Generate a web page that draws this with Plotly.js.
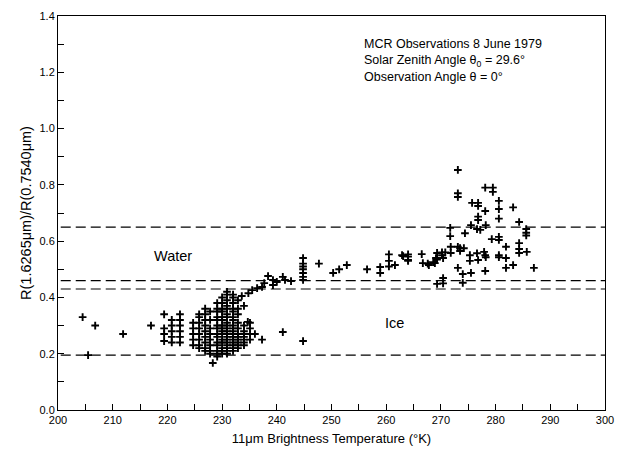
<!DOCTYPE html>
<html><head><meta charset="utf-8">
<script src="https://cdn.plot.ly/plotly-3.0.1.min.js"></script>
<style>html,body{margin:0;padding:0;background:#fff}#chart{width:618px;height:453px}</style>
</head><body><div id="chart"></div><script>
// Isolated points (°K, ratio)
var isoT = [204.5, 206.8, 205.5, 211.9, 217.0, 228.3, 241.1, 244.8, 236.0, 237.3, 234.7];
var isoR = [0.33, 0.30, 0.195, 0.27, 0.30, 0.167, 0.277, 0.245, 0.27, 0.25, 0.313];

// Dense ice cluster, column by column
var iceColT = [219.4, 220.8, 222.3, 224.7, 225.8, 226.9, 227.8, 229.1, 230.0, 230.9, 232.0, 232.9, 234.0, 235.1];
var iceColR = [
  [0.34, 0.29, 0.27, 0.245],
  [0.32, 0.30, 0.28, 0.26, 0.24],
  [0.34, 0.32, 0.30, 0.28, 0.26, 0.24],
  [0.31, 0.29, 0.27, 0.25, 0.23],
  [0.34, 0.33, 0.31, 0.29, 0.27, 0.25, 0.23, 0.22],
  [0.36, 0.34, 0.32, 0.30, 0.28, 0.26, 0.24, 0.22, 0.21],
  [0.35, 0.32, 0.29, 0.27, 0.25, 0.23, 0.21, 0.20],
  [0.38, 0.36, 0.35, 0.33, 0.32, 0.30, 0.29, 0.27, 0.26, 0.24, 0.23, 0.21, 0.20, 0.19],
  [0.40, 0.38, 0.36, 0.35, 0.33, 0.32, 0.30, 0.29, 0.28, 0.27, 0.25, 0.24, 0.22, 0.21, 0.20],
  [0.42, 0.41, 0.39, 0.37, 0.36, 0.34, 0.33, 0.31, 0.30, 0.29, 0.28, 0.27, 0.26, 0.25, 0.24, 0.23, 0.22, 0.21, 0.20],
  [0.41, 0.40, 0.38, 0.36, 0.35, 0.33, 0.32, 0.30, 0.29, 0.28, 0.27, 0.26, 0.25, 0.24, 0.23, 0.22, 0.21],
  [0.39, 0.36, 0.34, 0.31, 0.29, 0.27, 0.26, 0.25, 0.24, 0.23, 0.22],
  [0.37, 0.30, 0.28, 0.27, 0.26, 0.25, 0.24, 0.23],
  [0.31, 0.29, 0.27, 0.25]
];

// Transition points
var transT = [233.6, 234.8, 235.5, 236.4, 237.3, 237.7, 238.4, 239.3, 239.3, 240.0, 241.1, 241.5, 242.6,
  244.8, 244.8, 244.8, 244.8, 244.8, 244.8, 244.8, 247.7, 250.3, 251.4, 252.8, 256.5, 258.9, 258.9,
  260.5, 260.5, 260.5, 261.6, 262.9, 264.0, 264.0];
var transR = [0.405, 0.415, 0.426, 0.433, 0.437, 0.451, 0.476, 0.444, 0.462, 0.455, 0.473, 0.462, 0.458,
  0.54, 0.52, 0.51, 0.50, 0.487, 0.473, 0.462, 0.52, 0.487, 0.50, 0.515, 0.50, 0.508, 0.487,
  0.553, 0.53, 0.51, 0.515, 0.55, 0.553, 0.53];

// Warm (water) cluster
var warmT = [263.1, 264.0, 264.0, 266.5, 266.7, 267.6, 267.8, 268.6, 268.9, 269.1, 269.3, 269.3, 270.2, 270.2,
  270.4, 270.8, 271.8, 271.8, 273.1, 273.5, 273.5, 274.2, 275.3, 275.3, 276.6, 276.8, 277.9, 278.1, 278.2,
  280.6, 280.6, 281.9, 281.9, 283.2, 281.9, 284.3, 284.3, 284.3, 285.7, 279.3, 280.6, 280.6,
  273.1, 274.0, 275.5, 278.1, 287.0, 270.4, 270.4, 269.3, 274.0,
  271.7, 271.7, 274.4, 275.5, 276.6, 277.2, 276.8, 276.8, 278.2, 284.3, 285.6, 285.6, 285.6,
  275.7, 276.8, 276.8, 278.1, 280.6, 280.6, 280.6, 283.2, 278.1, 279.5, 279.5, 273.1, 273.1, 273.1];
var warmR = [0.547, 0.545, 0.533, 0.554, 0.522, 0.52, 0.515, 0.525, 0.522, 0.54, 0.558, 0.535, 0.55, 0.56,
  0.54, 0.56, 0.58, 0.558, 0.58, 0.575, 0.565, 0.575, 0.55, 0.53, 0.557, 0.533, 0.562, 0.55, 0.543,
  0.55, 0.543, 0.54, 0.58, 0.515, 0.505, 0.593, 0.572, 0.558, 0.562, 0.607, 0.615, 0.604,
  0.505, 0.483, 0.487, 0.494, 0.505, 0.469, 0.45, 0.448, 0.452,
  0.647, 0.618, 0.628, 0.657, 0.643, 0.64, 0.687, 0.675, 0.657, 0.668, 0.643, 0.63, 0.62,
  0.736, 0.736, 0.725, 0.707, 0.743, 0.714, 0.68, 0.72, 0.79, 0.79, 0.775, 0.853, 0.77, 0.757];

// Threshold lines
var thresholds = [0.195, 0.43, 0.46, 0.65];

var allT = [], allR = [];
isoT.forEach(function(t, i){ allT.push(t); allR.push(isoR[i]); });
iceColT.forEach(function(t, i){ iceColR[i].forEach(function(r){ allT.push(t); allR.push(r); }); });
transT.forEach(function(t, i){ allT.push(t); allR.push(transR[i]); });
warmT.forEach(function(t, i){ allT.push(t); allR.push(warmR[i]); });

var font = 'Liberation Sans, Arial, Helvetica, sans-serif';

var trace = {
  x: allT, y: allR, type: 'scatter', mode: 'markers', hoverinfo: 'skip',
  marker: {symbol: 'cross-thin', size: 5.5, color: 'black', line: {width: 1.9, color: 'black'}}
};

var shapes = thresholds.map(function(v){
  return {type: 'line', xref: 'paper', yref: 'y', x0: 0.005, x1: 1, y0: v, y1: v,
    line: {color: 'black', width: 1.2, dash: '10px,5px'}};
});

var layout = {
  width: 618, height: 453,
  margin: {l: 58, r: 13, t: 16, b: 43},
  paper_bgcolor: 'white', plot_bgcolor: 'white',
  showlegend: false,
  font: {family: font, color: 'black', size: 11},
  xaxis: {
    range: [200, 300], dtick: 10, tick0: 200, ticks: 'inside', ticklen: 6, tickcolor: 'black',
    showline: true, mirror: true, linecolor: 'black', linewidth: 1,
    showgrid: false, zeroline: false, tickfont: {size: 11},
    minor: {dtick: 5, tick0: 200, ticks: 'inside', ticklen: 6, tickcolor: 'black', showgrid: false},
    title: {text: '11μm Brightness Temperature (°K)', font: {size: 13}, standoff: 8}
  },
  yaxis: {
    range: [0, 1.4], dtick: 0.2, tick0: 0, tickformat: '.1f', ticks: 'inside', ticklen: 6, tickcolor: 'black',
    showline: true, mirror: true, linecolor: 'black', linewidth: 1,
    showgrid: false, zeroline: false, tickfont: {size: 11},
    minor: {dtick: 0.1, tick0: 0, ticks: 'inside', ticklen: 6, tickcolor: 'black', showgrid: false},
    title: {text: 'R(1.6265μm)/R(0.7540μm)', font: {size: 14.5}, standoff: 4}
  },
  shapes: shapes,
  annotations: [
    {xref: 'paper', yref: 'paper', x: 0.556, y: 0.952, xanchor: 'left', yanchor: 'top', align: 'left', showarrow: false,
     font: {size: 12.5, family: font},
     text: 'MCR Observations 8 June 1979<br>Solar Zenith Angle θ<sub>0</sub> = 29.6°<br>Observation Angle θ = 0°'},
    {xref: 'x', yref: 'y', x: 221.0, y: 0.547, showarrow: false, text: 'Water', font: {size: 14.5, family: font}},
    {xref: 'x', yref: 'y', x: 261.6, y: 0.31, showarrow: false, text: 'Ice', font: {size: 14.5, family: font}}
  ]
};

Plotly.newPlot('chart', [trace], layout, {displayModeBar: false, staticPlot: true});
</script></body></html>
